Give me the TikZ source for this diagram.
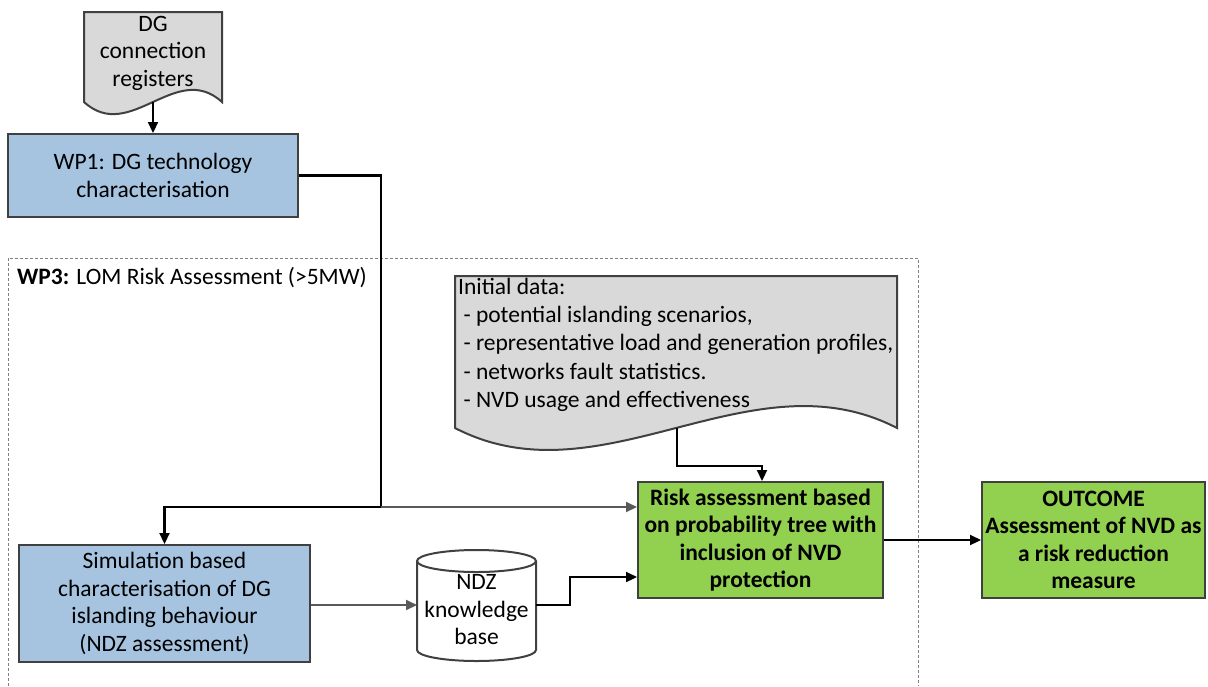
\documentclass[tikz,border=0pt]{standalone}
\usepackage{fontspec}
\setmainfont{Carlito}
\usetikzlibrary{arrows.meta}
\definecolor{bluefill}{RGB}{166,196,224}
\definecolor{greenfill}{RGB}{146,208,80}
\definecolor{docfill}{RGB}{217,217,217}
\definecolor{edge}{RGB}{64,64,64}
\definecolor{gline}{RGB}{89,89,89}
\tikzset{
  box/.style={draw=edge, line width=2pt, align=center, inner sep=0pt, font=\fontsize{23.5}{27.5}\selectfont},
  bluebox/.style={box, fill=bluefill},
  greenbox/.style={box, fill=greenfill, font=\fontsize{23.5}{27.5}\selectfont\bfseries},
  docshape/.style={draw=edge, line width=2pt, fill=docfill},
  conn/.style={draw=black, line width=2.2pt, -{Triangle[length=11pt,width=10pt]}},
  gconn/.style={draw=gline, line width=2pt, -{Triangle[length=11pt,width=10pt]}},
  txt/.style={inner sep=0pt, font=\fontsize{23.5}{27.5}\selectfont},
}
\begin{document}
\begin{tikzpicture}[x=1pt,y=-1pt]
\useasboundingbox (0,0) rectangle (1208,686);
% WP3 dashed frame
\draw[gray, line width=0.8pt, dash pattern=on 3pt off 2pt] (8,686) -- (8,258) -- (918,258) -- (918,686);
\node[txt, anchor=west] (wp3) at (17,278) {\textbf{WP3:} LOM Risk Assessment (>5MW)};
% top document
\draw[docshape] (84,12) -- (222,12) -- (222,102) .. controls (176,60) and (130,144) .. (84,102) -- cycle;
\node[txt, align=center] (reg) at (153,53) {DG\\connection\\registers};
\coordinate (regout) at (153,102);
% WP1
\node[bluebox, minimum width=290, minimum height=83] (wp1) at (153,175.5) {WP1: DG technology\\characterisation};
% initial data document
\draw[docshape] (455,276) -- (897,276) -- (897,428) .. controls (750,352) and (602,504) .. (455,428) -- cycle;
\node[txt, align=left, anchor=north west, font=\fontsize{23.5}{28.2}\selectfont] (init) at (458,278) {Initial data:\\
\ - potential islanding scenarios,\\
\ - representative load and generation profiles,\\
\ - networks fault statistics.\\
\ - NVD usage and effectiveness};
\coordinate (initout) at (677,428);
% risk and outcome
\node[greenbox, minimum width=245, minimum height=116] (risk) at (760.5,540) {Risk assessment based\\on probability tree with\\inclusion of NVD\\protection};
\node[greenbox, minimum width=223, minimum height=116] (outcome) at (1093.5,540) {OUTCOME\\Assessment of NVD as\\a risk reduction\\measure};
% simulation
\node[bluebox, minimum width=291, minimum height=117] (sim) at (164.5,603.5) {Simulation based\\characterisation of DG\\islanding behaviour\\(NDZ assessment)};
% cylinder
\draw[draw=edge, line width=2pt, fill=white] (417,561) -- (417,650) arc[start angle=180, end angle=0, x radius=59.5, y radius=11] -- (536,561) arc[start angle=0, end angle=-180, x radius=59.5, y radius=11] -- cycle;
\draw[draw=edge, line width=2pt] (417,561) arc[start angle=180, end angle=0, x radius=59.5, y radius=11];
\node[txt, align=center, minimum width=119, minimum height=100] (ndz) at (476.5,610) {NDZ\\knowledge\\base};
\coordinate (ndzw) at (417,605);
\coordinate (ndze) at (536,605);
% connectors
\coordinate (j) at (381,507);
\draw[conn] (regout) -- (wp1.north);
\draw[conn] (wp1.east) -| (j) -| (sim.north);
\draw[gconn] (j) -- (risk.west |- j);
\draw[conn] (initout) |- (762,466) -- (risk.north -| 762,0);
\draw[gconn] (sim.east |- ndzw) -- (ndzw);
\draw[conn] (ndze) -- (570,605) |- ([yshift=-37pt]risk.west);
\draw[conn] (risk.east) -- (outcome.west);
\end{tikzpicture}
\end{document}
